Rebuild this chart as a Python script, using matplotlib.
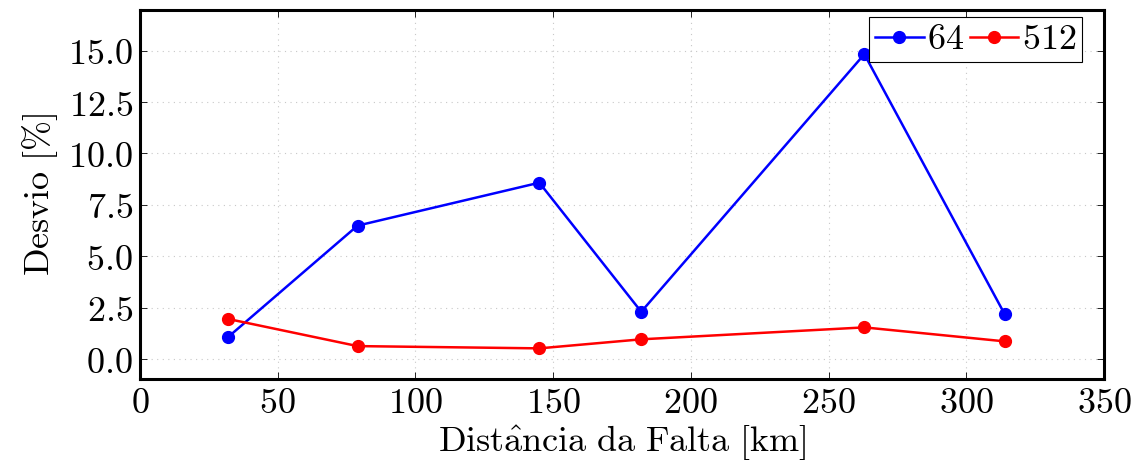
import matplotlib
matplotlib.use("Agg")
import matplotlib.pyplot as plt
from matplotlib.ticker import FuncFormatter, MultipleLocator

# data
dist = [32, 79, 145, 182, 263, 314]
desvio_64 = [1.07, 6.49, 8.58, 2.30, 14.83, 2.17]
desvio_512 = [1.95, 0.63, 0.52, 0.96, 1.54, 0.86]
labels = ["64", "512"]

plt.rcParams['mathtext.fontset'] = 'cm'
fs = 26

fig = plt.figure(figsize=(11.36, 4.68), dpi=100)
ax = fig.add_axes([0.1232, 0.1902, 0.8486, 0.7884])

ax.plot(dist, desvio_64, color=(0, 0, 1), lw=1.8, marker='o', ms=8.5,
        label="$%s$" % labels[0])
ax.plot(dist, desvio_512, color=(1, 0, 0), lw=1.8, marker='o', ms=8.5,
        label="$%s$" % labels[1])

ax.set_xlim(0, 350)
ax.set_ylim(-0.97, 16.98)
ax.xaxis.set_major_locator(MultipleLocator(50))
ax.yaxis.set_major_locator(MultipleLocator(2.5))
ax.xaxis.set_major_formatter(FuncFormatter(lambda v, p: "$%d$" % v))
ax.yaxis.set_major_formatter(FuncFormatter(lambda v, p: "$%.1f$" % v))

ax.grid(True, color='#c8c8c8', linestyle=(0, (1, 4)), lw=0.8)
ax.tick_params(direction='in', length=5, width=0.6, top=True, right=True,
               labelsize=fs, pad=5)
for s in ax.spines.values():
    s.set_linewidth(2.2)

ax.set_xlabel(r"$\mathrm{Dist\hat{a}ncia\ da\ Falta\ [km]}$", fontsize=fs,
              labelpad=3)
ax.set_ylabel(r"$\mathrm{Desvio\ [\%]}$", fontsize=fs, labelpad=6)

leg = ax.legend(loc='upper right', bbox_to_anchor=(0.977, 0.981), ncol=2,
                fontsize=fs, frameon=True, fancybox=False, edgecolor='black',
                framealpha=1, handlelength=1.35, handletextpad=0.1,
                columnspacing=0.15, borderpad=0.15, borderaxespad=0)
leg.get_frame().set_linewidth(0.8)

fig.savefig("out.png", dpi=100)
